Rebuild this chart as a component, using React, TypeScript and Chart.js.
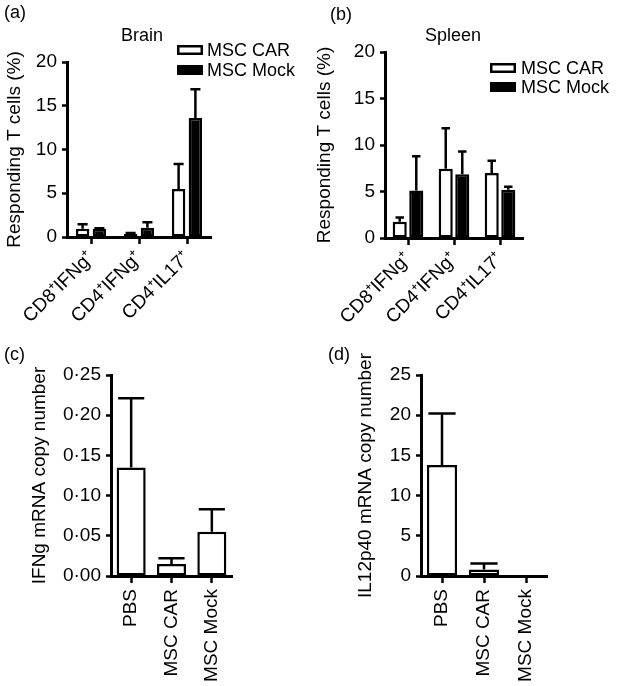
import React, { useEffect, useRef } from "react";
import { Chart, registerables } from "chart.js";

Chart.register(...registerables);

// ---------- data ----------
const tCellCategories = ["CD8⁺IFNg⁺", "CD4⁺IFNg⁺", "CD4⁺IL17⁺"];
const seriesNames = ["MSC CAR", "MSC Mock"];

const brainCar = [0.95, 0.35, 5.5];
const brainCarErr = [0.5, 0.1, 2.85];
const brainMock = [0.95, 1.05, 13.6];
const brainMockErr = [0.05, 0.65, 3.3];

const spleenCar = [1.75, 7.45, 7.0];
const spleenCarErr = [0.45, 4.35, 1.3];
const spleenMock = [5.1, 6.85, 5.2];
const spleenMockErr = [3.7, 2.45, 0.3];

const treatmentCategories = ["PBS", "MSC CAR", "MSC Mock"];
const ifngCopy = [0.135, 0.015, 0.055];
const ifngCopyErr = [0.086, 0.007, 0.028];
const il12Copy = [13.8, 0.8, 0];
const il12CopyErr = [6.4, 0.75, 0];

const percentAxis = { max: 20, step: 5 };
const ifngAxis = { max: 0.25, step: 0.05 };
const il12Axis = { max: 25, step: 5 };

// ---------- styling ----------
const FONT = "'Liberation Sans', Arial, Helvetica, sans-serif";
const BLACK = "#000000";
const WHITE = "#ffffff";

type SeriesSpec = { label: string; data: number[]; err: number[]; fill: string };
type PanelSpec = {
  letter: string;
  letterX: number;
  letterY: number;
  x: number;
  y: number;
  w: number;
  h: number;
  labels: string[];
  series: SeriesSpec[];
  yMax: number;
  yStep: number;
  yFormat: (v: number) => string;
  yTitle: string;
  yTitlePad: number;
  rotation: number;
  xLabelPad: number;
  chartLeft: number;
  chartRight: number;
  chartTop: number;
  chartBottom: number;
  catPct: number;
  barPct: number;
  capFrac: number;
  title?: { text: string; x: number; y: number };
  legend?: { boxX: number; textX: number; rows: number[] };
};

const panels: PanelSpec[] = [
  {
    letter: "(a)", letterX: 4, letterY: 13,
    x: 0, y: 0, w: 308, h: 340,
    labels: tCellCategories,
    series: [
      { label: seriesNames[0], data: brainCar, err: brainCarErr, fill: WHITE },
      { label: seriesNames[1], data: brainMock, err: brainMockErr, fill: BLACK },
    ],
    yMax: percentAxis.max, yStep: percentAxis.step,
    yFormat: (v) => String(v),
    yTitle: "Responding T cells (%)", yTitlePad: 3,
    rotation: 45, xLabelPad: 3,
    chartLeft: 67, chartRight: 211, chartTop: 62, chartBottom: 237,
    catPct: 0.7, barPct: 0.8, capFrac: 0.75,
    title: { text: "Brain", x: 142, y: 36 },
    legend: { boxX: 177, textX: 207, rows: [50, 70] },
  },
  {
    letter: "(b)", letterX: 22, letterY: 15,
    x: 308, y: 0, w: 309, h: 340,
    labels: tCellCategories,
    series: [
      { label: seriesNames[0], data: spleenCar, err: spleenCarErr, fill: WHITE },
      { label: seriesNames[1], data: spleenMock, err: spleenMockErr, fill: BLACK },
    ],
    yMax: percentAxis.max, yStep: percentAxis.step,
    yFormat: (v) => String(v),
    yTitle: "Responding T cells (%)", yTitlePad: 5,
    rotation: 45, xLabelPad: 3,
    chartLeft: 77, chartRight: 215, chartTop: 52, chartBottom: 238,
    catPct: 0.72, barPct: 0.85, capFrac: 0.6,
    title: { text: "Spleen", x: 145, y: 36 },
    legend: { boxX: 182, textX: 213, rows: [68, 87] },
  },
  {
    letter: "(c)", letterX: 4, letterY: 15,
    x: 0, y: 340, w: 308, h: 346,
    labels: treatmentCategories,
    series: [{ label: "IFNg", data: ifngCopy, err: ifngCopyErr, fill: WHITE }],
    yMax: ifngAxis.max, yStep: ifngAxis.step,
    yFormat: (v) => v.toFixed(2).replace(".", "·"),
    yTitle: "IFNg mRNA copy number", yTitlePad: 28,
    rotation: 90, xLabelPad: 6,
    chartLeft: 111, chartRight: 232, chartTop: 35, chartBottom: 236,
    catPct: 0.72, barPct: 1.0, capFrac: 0.9,
  },
  {
    letter: "(d)", letterX: 20, letterY: 15,
    x: 308, y: 340, w: 309, h: 346,
    labels: treatmentCategories,
    series: [{ label: "IL12p40", data: il12Copy, err: il12CopyErr, fill: WHITE }],
    yMax: il12Axis.max, yStep: il12Axis.step,
    yFormat: (v) => String(v),
    yTitle: "IL12p40 mRNA copy number", yTitlePad: 46,
    rotation: 90, xLabelPad: 6,
    chartLeft: 113, chartRight: 239, chartTop: 35, chartBottom: 236,
    catPct: 0.72, barPct: 1.0, capFrac: 0.9,
  },
];

function makeErrorBarPlugin(spec: PanelSpec) {
  return {
    id: "errorBars" + spec.letter,
    afterDatasetsDraw(chart: any) {
      const ctx = chart.ctx;
      const yScale = chart.scales.y;
      ctx.save();
      ctx.strokeStyle = BLACK;
      ctx.lineWidth = 2.5;
      ctx.lineCap = "butt";
      spec.series.forEach((s, di) => {
        const meta = chart.getDatasetMeta(di);
        meta.data.forEach((el: any, i: number) => {
          const e = s.err[i];
          if (!e) return;
          const top = yScale.getPixelForValue(s.data[i] + e);
          const base = el.y;
          const half = (el.width * spec.capFrac) / 2;
          ctx.beginPath();
          ctx.moveTo(el.x, base);
          ctx.lineTo(el.x, top);
          ctx.moveTo(el.x - half, top);
          ctx.lineTo(el.x + half, top);
          ctx.stroke();
        });
      });
      ctx.restore();
    },
  };
}

function makeDecorPlugin(spec: PanelSpec) {
  return {
    id: "decor" + spec.letter,
    afterDraw(chart: any) {
      const ctx = chart.ctx;
      ctx.save();
      ctx.fillStyle = BLACK;
      ctx.textBaseline = "middle";
      ctx.font = `18px ${FONT}`;
      ctx.textAlign = "left";
      ctx.fillText(spec.letter, spec.letterX, spec.letterY);
      if (spec.title) {
        ctx.textAlign = "center";
        ctx.font = `18px ${FONT}`;
        ctx.fillText(spec.title.text, spec.title.x, spec.title.y);
      }
      if (spec.legend) {
        const lg = spec.legend;
        chart.data.datasets.forEach((ds: any, i: number) => {
          const cy = lg.rows[i];
          const bw = 26;
          const bh = 10;
          ctx.fillStyle = ds.backgroundColor;
          ctx.fillRect(lg.boxX, cy - bh / 2, bw, bh);
          ctx.strokeStyle = BLACK;
          ctx.lineWidth = 2.5;
          ctx.strokeRect(lg.boxX + 1.25, cy - bh / 2 + 1.25, bw - 2.5, bh - 2.5);
          ctx.fillStyle = BLACK;
          ctx.textAlign = "left";
          ctx.font = `18px ${FONT}`;
          ctx.fillText(ds.label, lg.textX, cy + 1);
        });
      }
      ctx.restore();
    },
  };
}

function buildConfig(spec: PanelSpec): any {
  const gridCommon = {
    display: true,
    drawOnChartArea: false,
    drawTicks: true,
    tickColor: BLACK,
    tickWidth: 2.5,
  };
  return {
    type: "bar",
    data: {
      labels: spec.labels,
      datasets: spec.series.map((s) => ({
        label: s.label,
        data: s.data,
        backgroundColor: s.fill,
        borderColor: BLACK,
        borderWidth: 2.5,
        borderSkipped: false,
        categoryPercentage: spec.catPct,
        barPercentage: spec.barPct,
      })),
    },
    options: {
      animation: false,
      responsive: false,
      devicePixelRatio: 1,
      layout: {
        padding: {
          left: 0,
          top: spec.chartTop,
          right: spec.w - spec.chartRight,
          bottom: 0,
        },
      },
      plugins: {
        legend: { display: false },
        tooltip: { enabled: false },
        title: { display: false },
      },
      scales: {
        x: {
          grid: { ...gridCommon, tickLength: 7, offset: false },
          border: { display: true, color: BLACK, width: 3 },
          ticks: {
            color: BLACK,
            font: { family: FONT, size: 19 },
            minRotation: spec.rotation,
            maxRotation: spec.rotation,
            autoSkip: false,
            padding: spec.xLabelPad,
          },
          afterFit: (scale: any) => {
            scale.height = spec.h - spec.chartBottom;
          },
        },
        y: {
          min: 0,
          max: spec.yMax,
          grid: { ...gridCommon, tickLength: 5 },
          border: { display: true, color: BLACK, width: 3 },
          ticks: {
            stepSize: spec.yStep,
            color: BLACK,
            font: { family: FONT, size: 19 },
            padding: 5,
            callback: (v: any) => spec.yFormat(Number(v)),
          },
          title: {
            display: true,
            text: spec.yTitle,
            color: BLACK,
            font: { family: FONT, size: 19 },
            padding: { top: spec.yTitlePad, bottom: 0 },
          },
          afterFit: (scale: any) => {
            scale.width = spec.chartLeft;
          },
        },
      },
    },
    plugins: [makeErrorBarPlugin(spec), makeDecorPlugin(spec)],
  };
}

function Panel({ spec }: { spec: PanelSpec }) {
  const ref = useRef<HTMLCanvasElement | null>(null);
  useEffect(() => {
    if (!ref.current) return;
    const chart = new Chart(ref.current, buildConfig(spec));
    return () => chart.destroy();
  }, [spec]);
  return (
    <div
      style={{
        position: "absolute",
        left: spec.x,
        top: spec.y,
        width: spec.w,
        height: spec.h,
      }}
    >
      <canvas
        ref={ref}
        width={spec.w}
        height={spec.h}
        style={{ width: spec.w, height: spec.h, display: "block" }}
      />
    </div>
  );
}

export default function App() {
  return (
    <div
      style={{
        position: "absolute",
        left: 0,
        top: 0,
        width: 617,
        height: 686,
        background: WHITE,
        overflow: "hidden",
      }}
    >
      {panels.map((p) => (
        <Panel key={p.letter} spec={p} />
      ))}
    </div>
  );
}
